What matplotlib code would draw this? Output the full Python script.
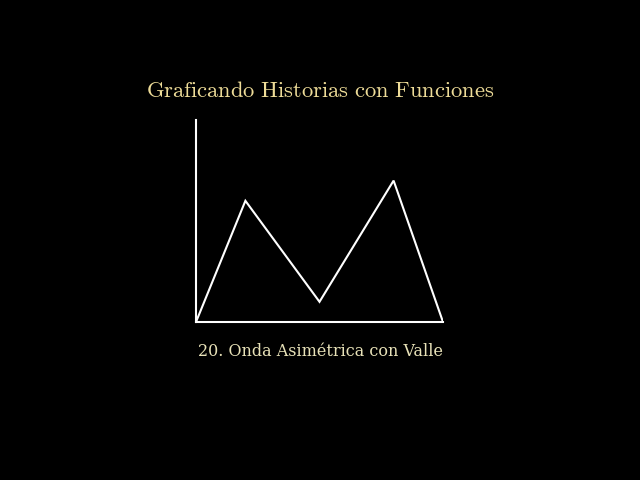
import matplotlib
matplotlib.use("Agg")
from matplotlib import pyplot as plt

# puntos de la onda
x_vals = [0, 2, 5, 8, 10]
y_vals = [0, 6, 1, 7, 0]

title = "Graficando Historias con Funciones"
subtitle = "20. Onda Asimétrica con Valle"

plt.rcParams['mathtext.fontset'] = 'cm'

fig = plt.figure(figsize=(6.4, 4.8), dpi=100, facecolor='black')
ax = fig.add_axes([196/640, 1 - 322/480, 247/640, 202/480], facecolor='black')

ax.plot(x_vals, y_vals, color='white', linewidth=1.5, solid_joinstyle='miter')
ax.set_xlim(0, 10)
ax.set_ylim(0, 10)

for side in ['top', 'right']:
    ax.spines[side].set_visible(False)
for side in ['left', 'bottom']:
    ax.spines[side].set_color('white')
    ax.spines[side].set_linewidth(1.5)
ax.set_xticks([])
ax.set_yticks([])

fig.text(0.5, 1 - 91/480, r'$\mathrm{' + title.replace(' ', r'\ ') + '}$',
         color='#eedc98', fontsize=16.2, ha='center', va='center')
fig.text(0.5, 1 - 352/480, subtitle, color='#e8e2b8', family='DejaVu Serif',
         fontsize=11.5, ha='center', va='center')

fig.savefig('out.png', dpi=100, facecolor='black')
